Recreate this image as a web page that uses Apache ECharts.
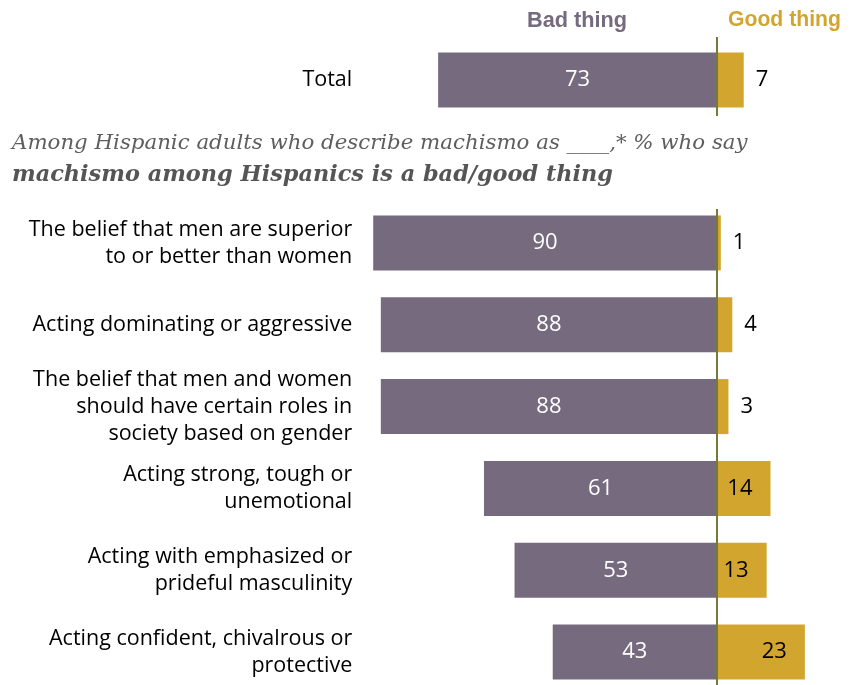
<!DOCTYPE html>
<html>
<head>
<meta charset="utf-8">
<style>
  html, body { margin: 0; padding: 0; background: #fff; overflow: hidden; }
  #chart { width: 852px; height: 720px; }
</style>
<script src="https://cdn.jsdelivr.net/npm/echarts@6/dist/echarts.min.js"></script>
</head>
<body>
<div id="chart"></div>
<script>
// Share of Hispanic adults saying machismo is a bad or good thing
var totalLabel = ['Total'];
var totalBad = [73];
var totalGood = [7];

var categories = [
  'The belief that men are superior\nto or better than women',
  'Acting dominating or aggressive',
  'The belief that men and women\nshould have certain roles in\nsociety based on gender',
  'Acting strong, tough or\nunemotional',
  'Acting with emphasized or\nprideful masculinity',
  'Acting confident, chivalrous or\nprotective'
];
var badValues = [90, 88, 88, 61, 53, 43];
var goodValues = [1, 4, 3, 14, 13, 23];

var PURPLE = '#766a7e';
var GOLD = '#d2a52f';
var LINE = '#76793a';
var SANS = '"Open Sans", "Liberation Sans", sans-serif';
var HEAD = '"Liberation Sans", Arial, sans-serif';
var SERIF = '"DejaVu Serif", serif';

var X_MIN = -90, X_MAX = 35, PX_PER_UNIT = 3.82;
var gridLeft = 717 - (0 - X_MIN) * PX_PER_UNIT;
var gridWidth = (X_MAX - X_MIN) * PX_PER_UNIT;

function badData(vals) {
  return vals.map(function (v) { return { value: -v }; });
}
function goodData(vals) {
  return vals.map(function (v) {
    var inside = v >= 10;
    return {
      value: v,
      label: inside
        ? { position: 'insideRight', distance: 18, color: '#000' }
        : { position: 'right', distance: 12, color: '#000' }
    };
  });
}

var barLabelBad = {
  show: true, position: 'inside', color: '#fff',
  fontFamily: SANS, fontSize: 22,
  formatter: function (p) { return Math.abs(p.value); }
};
var barLabelGood = {
  show: true, color: '#000', fontFamily: SANS, fontSize: 22,
  formatter: function (p) { return p.value; }
};

var xAxisBase = {
  type: 'value', min: X_MIN, max: X_MAX,
  axisLine: { show: false }, axisTick: { show: false },
  axisLabel: { show: false }, splitLine: { show: false }
};
var yAxisBase = {
  type: 'category', inverse: true,
  axisLine: { show: false }, axisTick: { show: false },
  axisLabel: {
    color: '#000', fontFamily: SANS, fontSize: 21.5, lineHeight: 27,
    align: 'right', margin: 21
  }
};

var chart = echarts.init(document.getElementById('chart'), null, { renderer: 'canvas' });

chart.setOption({
  animation: false,
  backgroundColor: '#fff',
  grid: [
    { left: gridLeft, width: gridWidth, top: 40, height: 80 },
    { left: gridLeft, width: gridWidth, top: 202, height: 491 }
  ],
  xAxis: [
    Object.assign({ gridIndex: 0 }, xAxisBase),
    Object.assign({ gridIndex: 1 }, xAxisBase)
  ],
  yAxis: [
    Object.assign({}, yAxisBase, { gridIndex: 0, data: totalLabel }),
    Object.assign({}, yAxisBase, { gridIndex: 1, data: categories })
  ],
  series: [
    {
      type: 'bar', xAxisIndex: 0, yAxisIndex: 0, stack: 't',
      barWidth: 55, itemStyle: { color: PURPLE },
      label: barLabelBad, data: badData(totalBad)
    },
    {
      type: 'bar', xAxisIndex: 0, yAxisIndex: 0, stack: 't',
      barWidth: 55, itemStyle: { color: GOLD },
      label: barLabelGood, data: goodData(totalGood)
    },
    {
      type: 'bar', xAxisIndex: 1, yAxisIndex: 1, stack: 'g',
      barWidth: 55, itemStyle: { color: PURPLE },
      label: barLabelBad, data: badData(badValues)
    },
    {
      type: 'bar', xAxisIndex: 1, yAxisIndex: 1, stack: 'g',
      barWidth: 55, itemStyle: { color: GOLD },
      label: barLabelGood, data: goodData(goodValues)
    }
  ]
});

// zero reference line, placed from the axis scale
var zeroX = chart.convertToPixel({ xAxisIndex: 0 }, 0);

chart.setOption({
  graphic: [
    { type: 'line', shape: { x1: zeroX, y1: 37, x2: zeroX, y2: 116 },
      style: { stroke: LINE, lineWidth: 2 }, z: 10 },
    { type: 'line', shape: { x1: zeroX, y1: 209, x2: zeroX, y2: 720 },
      style: { stroke: LINE, lineWidth: 2 }, z: 10 },
    { type: 'text', left: 527, top: 10,
      style: { text: 'Bad thing', fill: PURPLE, font: 'bold 21.7px ' + HEAD } },
    { type: 'text', left: 728, top: 10,
      style: { text: 'Good thing', fill: GOLD, font: 'bold 21.2px ' + HEAD } },
    { type: 'text', left: 12, top: 133,
      style: { text: 'Among Hispanic adults who describe machismo as ____,* % who say',
               fill: '#5e5e5e', font: 'italic 21.3px ' + SERIF } },
    { type: 'text', left: 12, top: 164,
      style: { text: 'machismo among Hispanics is a bad/good thing',
               fill: '#555', font: 'italic bold 22.4px ' + SERIF } }
  ]
});
</script>
</body>
</html>
